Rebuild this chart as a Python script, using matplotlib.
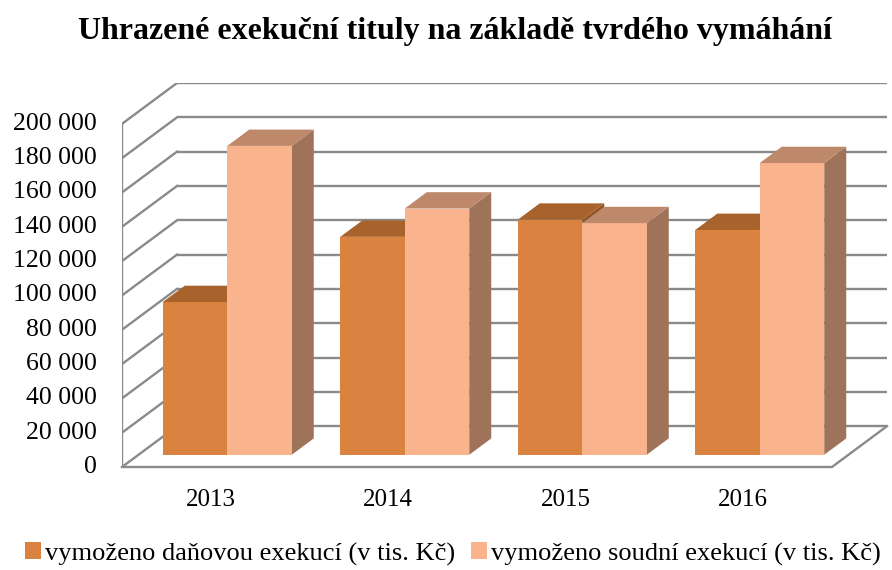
import matplotlib.pyplot as plt
from matplotlib.patches import Polygon, Patch

# data
years = ["2013", "2014", "2015", "2016"]
danova = [89000, 127000, 137000, 131000]
soudni = [180000, 143500, 135000, 170000]
series_names = ["vymoženo daňovou exekucí (v tis. Kč)",
                "vymoženo soudní exekucí (v tis. Kč)"]
yticks = list(range(0, 200001, 20000))

plt.rcParams['font.family'] = ['Liberation Serif', 'DejaVu Serif']

front_cols = ["#DA823F", "#FAB48D"]
top_cols = ["#A8632D", "#BE886B"]
side_cols = ["#8E5527", "#9E7359"]
grid_col = "#8A8A8A"

# oblique offsets (depth of the plot box), in data units
DX = 0.31
DY = 23800
bw = 0.3634          # bar width in category units
f0 = 0.3             # bar front at 30 % of depth
fd = 0.4             # bar depth 40 % of depth

fig = plt.figure(figsize=(8.92, 5.70), dpi=100)
ax = fig.add_axes([122 / 892, (570 - 467) / 570, 765 / 892, 384 / 570])
ax.set_xlim(0, 4 + DX)
ax.set_ylim(0, 200000 + DY)
ax.axis("off")

n = len(years)
# walls and gridlines
for v in yticks:
    ax.plot([DX, n + DX], [v + DY, v + DY], color=grid_col, lw=1.7,
            solid_capstyle="butt", zorder=1)
    ax.plot([0, DX], [v, v + DY], color=grid_col, lw=1.7, zorder=1)
ax.plot([0, 0], [0, 200000], color=grid_col, lw=1.7, zorder=1)
ax.plot([0, n, n + DX], [0, 0, DY], color=grid_col, lw=1.7, zorder=1,
        clip_on=False)

# bars with fake 3d faces
ox, oy = f0 * DX, f0 * DY
ddx, ddy = fd * DX, fd * DY
for i in range(n):
    for s, vals in enumerate([danova, soudni]):
        h = vals[i]
        x0 = i + 0.5 + ox - bw + s * bw
        y0 = oy
        z = 2 + i * 3 + s * 3
        side = Polygon([(x0 + bw, y0), (x0 + bw, y0 + h),
                        (x0 + bw + ddx, y0 + h + ddy), (x0 + bw + ddx, y0 + ddy)],
                       closed=True, facecolor=side_cols[s], edgecolor="none",
                       zorder=z)
        ax.add_patch(side)
        ax.bar(x0, h, width=bw, bottom=y0, align="edge", color=front_cols[s],
               edgecolor="none", zorder=z + 1)
        top = Polygon([(x0, y0 + h), (x0 + bw, y0 + h),
                       (x0 + bw + ddx, y0 + h + ddy), (x0 + ddx, y0 + h + ddy)],
                      closed=True, facecolor=top_cols[s], edgecolor="none",
                      zorder=z + 2)
        ax.add_patch(top)

# axis labels
for v in yticks:
    ax.text(-0.14, v, f"{v:,}".replace(",", " "), ha="right", va="center",
            fontsize=18.5)
for i, yr in enumerate(years):
    ax.text(i + 0.5, -19000, yr, ha="center", va="center", fontsize=18)

fig.text(0.51, 0.945, "Uhrazené exekuční tituly na základě tvrdého vymáhání",
         ha="center", va="center", fontsize=23, fontweight="bold")

handles = [Patch(facecolor=c, edgecolor="none") for c in front_cols]
fig.legend(handles, series_names, loc="center", bbox_to_anchor=(0.508, 0.028),
           ncol=2, frameon=False, fontsize=19, handlelength=0.6,
           handleheight=0.6, handletextpad=0.15, columnspacing=0.6)

fig.savefig("out.png", dpi=100)
